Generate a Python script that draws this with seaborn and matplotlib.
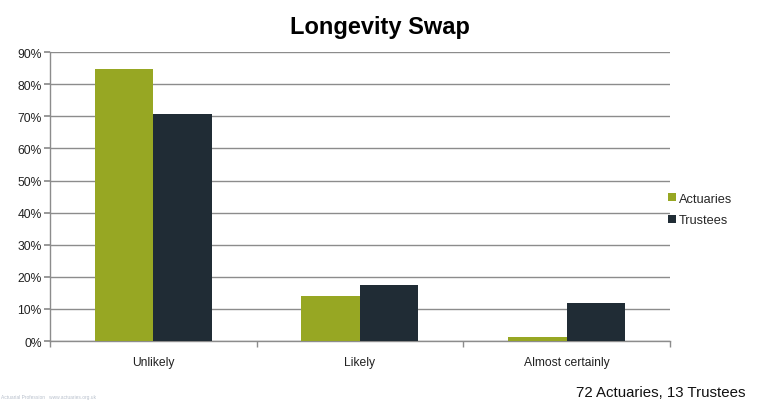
import matplotlib
matplotlib.use("Agg")
import matplotlib.pyplot as plt
import matplotlib.ticker as mticker
import seaborn as sns
import pandas as pd

categories = ["Unlikely", "Likely", "Almost certainly"]
actuaries = [84.7, 13.9, 1.4]
trustees = [70.6, 17.6, 11.8]
series_names = ["Actuaries", "Trustees"]
colors = ["#97A723", "#202C35"]

df = pd.DataFrame({
    "category": categories * 2,
    "group": [series_names[0]] * 3 + [series_names[1]] * 3,
    "value": actuaries + trustees,
})

sns.set_theme(style="white")
plt.rcParams["font.family"] = ["Liberation Sans", "DejaVu Sans"]

fig = plt.figure(figsize=(7.57, 4.02), dpi=100)
ax = fig.add_axes([0.066, 0.149, 0.819, 0.719])

sns.barplot(data=df, x="category", y="value", hue="group", order=categories,
            hue_order=series_names, palette=colors, saturation=1,
            width=0.566, gap=0, edgecolor="none", linewidth=0, ax=ax, zorder=3)

ax.set_ylim(0, 90)
ax.set_xlim(-0.5, 2.5)
ax.yaxis.set_major_locator(mticker.MultipleLocator(10))
ax.yaxis.set_major_formatter(mticker.FuncFormatter(lambda v, p: f"{v:.0f}%"))
ax.grid(axis="y", color="#8c8c8c", linewidth=1.0, zorder=0)
ax.set_axisbelow(True)

for side in ["top", "right"]:
    ax.spines[side].set_visible(False)
for side in ["left", "bottom"]:
    ax.spines[side].set_color("#8c8c8c")
    ax.spines[side].set_linewidth(1.0)

ax.tick_params(axis="y", which="major", left=True, length=4, color="#8c8c8c",
               labelsize=8.7, labelcolor="#222222", pad=2)
ax.tick_params(axis="x", which="major", bottom=False, labelsize=8.7,
               labelcolor="#222222", pad=5)
ax.set_xticks([-0.5, 0.5, 1.5, 2.5], minor=True)
ax.tick_params(axis="x", which="minor", bottom=True, length=4,
               color="#8c8c8c", direction="out")

ax.set_xlabel("")
ax.set_ylabel("")

ax.legend(loc="center left", bbox_to_anchor=(0.987, 0.455), frameon=False,
          fontsize=9.2, handlelength=0.6, handleheight=0.6, handletextpad=0.2,
          labelspacing=0.75, borderpad=0)

fig.text(0.502, 0.932, "Longevity Swap", ha="center", va="center",
         fontsize=17, fontweight="bold", color="#000000")
fig.text(0.985, 0.022, "72 Actuaries, 13 Trustees", ha="right", va="center",
         fontsize=10.8, color="#111111")
fig.text(0.001, 0.004, "Actuarial Profession   www.actuaries.org.uk",
         ha="left", va="bottom", fontsize=3.5, color="#b8c0cc")

fig.savefig("out.png", dpi=100)
